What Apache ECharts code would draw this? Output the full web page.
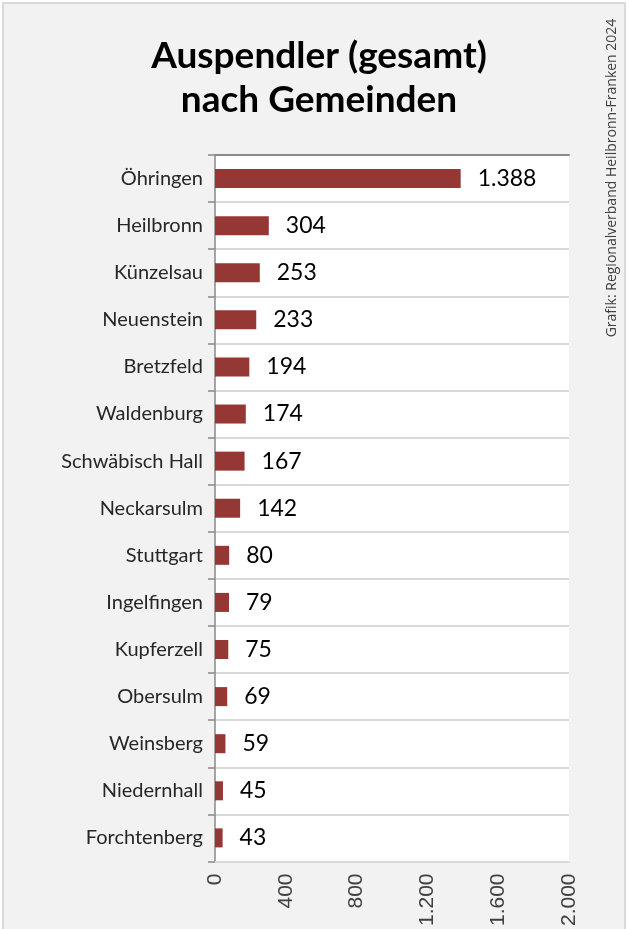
<!DOCTYPE html>
<html>
<head>
<meta charset="utf-8">
<script src="https://cdn.jsdelivr.net/npm/echarts@6/dist/echarts.min.js"></script>
<style>
html,body{margin:0;padding:0;background:#fff;overflow:hidden;}
#chart{width:629px;height:929px;}
</style>
</head>
<body>
<div id="chart"></div>
<script>
const categories = ['Öhringen','Heilbronn','Künzelsau','Neuenstein','Bretzfeld','Waldenburg','Schwäbisch Hall','Neckarsulm','Stuttgart','Ingelfingen','Kupferzell','Obersulm','Weinsberg','Niedernhall','Forchtenberg'];
const values = [1388,304,253,233,194,174,167,142,80,79,75,69,59,45,43];
const titleLines = ['Auspendler (gesamt)','nach Gemeinden'];
const sourceText = 'Grafik: Regionalverband Heilbronn-Franken 2024';

function deNum(v){ return String(v).replace(/\B(?=(\d{3})+(?!\d))/g,'.'); }

const chart = echarts.init(document.getElementById('chart'), null, {renderer:'canvas'});
chart.setOption({
  backgroundColor:'#ffffff',
  animation:false,
  graphic:[
    {type:'rect', z:-10, silent:true, shape:{x:3,y:3,width:622,height:940},
     style:{fill:'#f2f2f2', stroke:'#d9d9d9', lineWidth:2}},
    {type:'text', x:612, y:178, rotation:Math.PI/2,
     style:{text:sourceText, fill:'#404040', font:'14px "Open Sans"', align:'center', verticalAlign:'middle'}}
  ],
  title:{
    text:titleLines.join('\n'), left:314, top:29, textAlign:'center',
    textStyle:{fontFamily:'Lato', fontWeight:'bold', fontSize:37, lineHeight:44, color:'#000'}
  },
  grid:{left:215, top:155, width:354, height:711, show:true, backgroundColor:'#ffffff', borderWidth:0},
  xAxis:[{
    type:'value', min:0, max:2000, interval:400, position:'bottom',
    axisLine:{show:true, lineStyle:{color:'#d9d9d9', width:2}},
    axisTick:{show:false},
    splitLine:{show:false},
    axisLabel:{rotate:90, margin:12, color:'#404040', fontSize:21, fontFamily:'"Liberation Sans Narrow","Arial Narrow","Liberation Sans"', formatter:deNum}
  },{
    type:'value', min:0, max:2000, position:'top',
    axisLine:{show:true, lineStyle:{color:'#898989', width:2}},
    axisTick:{show:false}, axisLabel:{show:false}, splitLine:{show:false}
  }],
  yAxis:{
    type:'category', data:categories, inverse:true,
    axisLine:{show:true, lineStyle:{color:'#898989', width:1.5}},
    axisTick:{show:true, length:7, lineStyle:{color:'#898989', width:1.5}},
    splitLine:{show:true, lineStyle:{color:'#d9d9d9', width:2}},
    axisLabel:{margin:12, color:'#262626', fontSize:20, fontFamily:'Lato'}
  },
  series:[{
    type:'bar', data:values, barWidth:19, xAxisIndex:0,
    itemStyle:{color:'#953735'},
    label:{show:true, position:'right', distance:17, color:'#000', fontSize:23, fontFamily:'Lato', formatter:p=>deNum(p.value)}
  }]
});
</script>
</body>
</html>
